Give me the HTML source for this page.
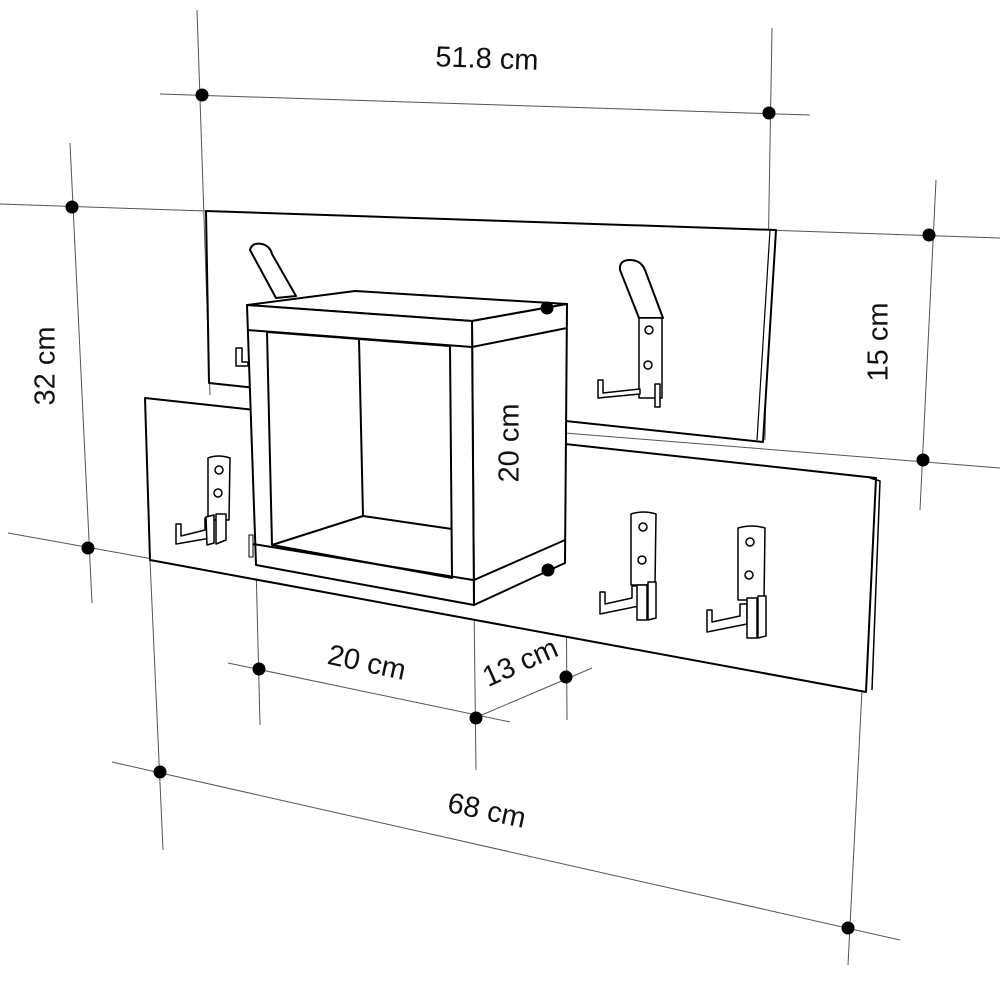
<!DOCTYPE html>
<html><head><style>body{margin:0;background:#fff}svg{display:block}</style></head>
<body>
<svg width="1000" height="1000" viewBox="0 0 1000 1000" xmlns="http://www.w3.org/2000/svg" font-family="Liberation Sans, sans-serif">
<g stroke="#555" stroke-width="1" fill="none">
<line x1="160" y1="94" x2="810" y2="115"/>
<line x1="197" y1="10" x2="210" y2="395"/>
<line x1="772" y1="28" x2="765" y2="440"/>
<line x1="0" y1="204" x2="1000" y2="238"/>
<line x1="70" y1="143" x2="92" y2="603"/>
<line x1="936" y1="180" x2="920" y2="510"/>
<line x1="565" y1="433" x2="1000" y2="468"/>
<line x1="8" y1="533" x2="560" y2="632"/>
<line x1="547" y1="287" x2="548" y2="600"/>
<line x1="228" y1="663" x2="510" y2="722"/>
<line x1="470" y1="720" x2="592" y2="668"/>
<line x1="112" y1="762" x2="900" y2="940"/>
<line x1="150" y1="560" x2="163" y2="850"/>
<line x1="256" y1="565" x2="260" y2="725"/>
<line x1="474" y1="605" x2="476" y2="770"/>
<line x1="566" y1="545" x2="567" y2="720"/>
<line x1="862" y1="690" x2="848" y2="965"/>
</g>
<g stroke="#000" stroke-width="2" fill="#fff" stroke-linejoin="round">
<polygon points="206,211 776,230 763,442 209,383"/>
<line x1="770" y1="230" x2="757" y2="440" stroke-width="1.2"/>
<path d="M250,250 Q252,242 262,244 Q270,246 272,254 L296,296 L276,298 Z"/>
<path d="M236,348 l6,0 l0,14 l6,0 l0,4 l-12,0 Z" stroke-width="1.5"/>
<path d="M620,270 Q619,260 630,260 Q641,260 645,270 L663,318 L639,318 Z"/>
<rect x="639" y="318" width="23" height="80" stroke-width="1.5"/>
<path d="M598,380 l5,0 l0,13 l37,-4 l0,5 l-42,4 Z" stroke-width="1.5"/>
<rect x="655" y="384" width="5" height="23" stroke-width="1.5"/>
<circle cx="649" cy="330" r="4" stroke-width="1.5"/><circle cx="648" cy="365" r="4" stroke-width="1.5"/>
<polygon points="145,398 876,478 866,692 150,560"/>
<polyline points="870,478 880,481 872,690" fill="none" stroke-width="1.5"/>
<g stroke-width="1.5">
<path d="M208,458 Q218,454 230,458 L229,520 L208,520 Z"/>
<circle cx="219" cy="470" r="4"/><circle cx="218" cy="493" r="4"/>
<path d="M176,524 l5,0 l0,12 l24,-6 l0,-12 l6,0 l0,20 l-35,6 Z"/>
<path d="M206,517 l8,-2 l0,28 l-7,2 Z"/><path d="M216,514 l10,0 l0,26 l-10,4 Z"/>
<path d="M631,514 Q643,510 656,514 L655,585 L631,585 Z"/>
<circle cx="643" cy="527" r="4"/><circle cx="642" cy="560" r="4"/>
<path d="M600,592 l5,0 l0,12 l27,-6 l0,-12 l7,0 l0,20 l-39,8 Z"/>
<path d="M637,585 l10,0 l0,35 l-10,0 Z"/><path d="M648,582 l8,0 l0,36 l-8,2 Z"/>
<path d="M738,528 Q752,524 765,528 L764,600 L738,600 Z"/>
<circle cx="750" cy="542" r="4"/><circle cx="749" cy="575" r="4"/>
<path d="M707,610 l5,0 l0,12 l28,-6 l0,-12 l7,0 l0,20 l-40,8 Z"/>
<path d="M747,598 l10,0 l0,40 l-10,0 Z"/><path d="M758,596 l8,0 l0,40 l-8,2 Z"/>
</g>
<polygon points="247,305 355,291 567,304 472,321"/>
<polygon points="472,321 567,304 565,563 474,605"/>
<polygon points="247,305 472,321 474,605 256,565"/>
<polygon points="267,332 450,346 452,578 272,545"/>
<line x1="472" y1="347" x2="567" y2="328"/>
<line x1="474" y1="580" x2="565" y2="540"/>
<line x1="247" y1="330" x2="472" y2="347"/>
<line x1="253" y1="544" x2="473" y2="580"/>
<line x1="359" y1="339" x2="363" y2="516"/>
<polyline points="272,545 363,516 452,529" fill="none"/>
<rect x="249" y="535" width="4" height="22" stroke-width="1"/>
</g>
<g fill="#000">
<circle cx="202" cy="95" r="6.5"/><circle cx="769" cy="113" r="6.5"/>
<circle cx="72" cy="207" r="6.5"/><circle cx="929" cy="235" r="6.5"/>
<circle cx="923" cy="460" r="6.5"/><circle cx="88" cy="548" r="6.5"/>
<circle cx="547" cy="308" r="6.5"/><circle cx="548" cy="570" r="6.5"/>
<circle cx="259" cy="669" r="6.5"/><circle cx="476" cy="718" r="6.5"/>
<circle cx="566" cy="677" r="6.5"/><circle cx="160" cy="772" r="6.5"/>
<circle cx="848" cy="928" r="6.5"/>
</g>
<g font-size="29" fill="#111" text-anchor="middle">
<text x="487" y="68" transform="rotate(2 487 58)">51.8 cm</text>
<text x="47" y="366" transform="rotate(-90 47 366)" dominant-baseline="middle">32 cm</text>
<text x="880" y="342" transform="rotate(-90 880 342)" dominant-baseline="middle">15 cm</text>
<text x="511" y="443" transform="rotate(-90 511 443)" dominant-baseline="middle">20 cm</text>
<text x="367" y="672" transform="rotate(12 367 662)">20 cm</text>
<text x="520" y="672" transform="rotate(-24 520 662)">13 cm</text>
<text x="487" y="820" transform="rotate(12 487 810)">68 cm</text>
</g>
</svg>
</body></html>
